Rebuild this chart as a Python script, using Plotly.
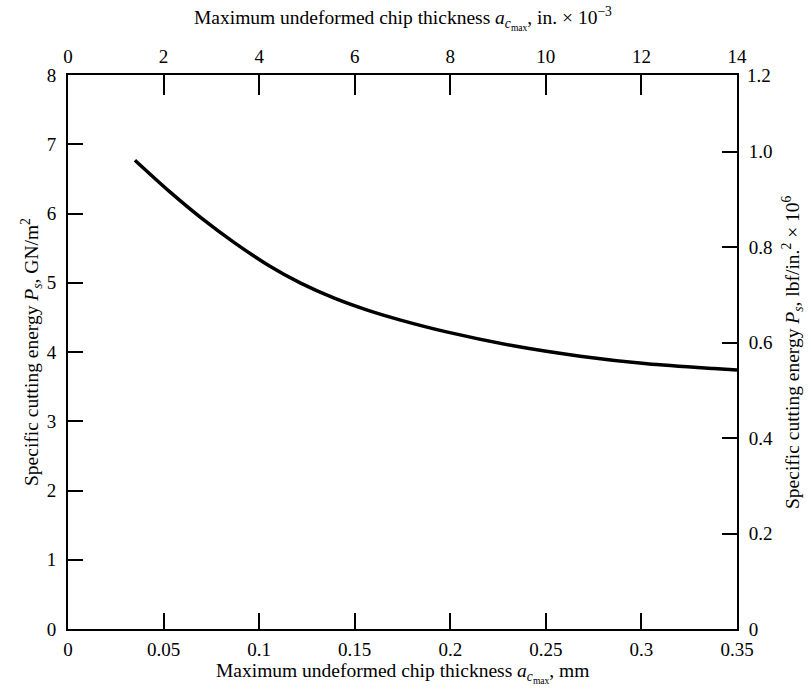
import plotly.graph_objects as go

# Specific cutting energy vs. maximum undeformed chip thickness
chip_mm = [0.035, 0.053, 0.070, 0.087, 0.105, 0.122, 0.139, 0.157, 0.174,
           0.198, 0.233, 0.268, 0.303, 0.338, 0.350]
energy_gn = [6.77, 6.32, 5.93, 5.58, 5.25, 4.99, 4.78, 4.60, 4.46,
             4.29, 4.09, 3.94, 3.83, 3.76, 3.74]

# Bottom axis (mm) and top axis (in. x 10^-3)
x_mm_ticks = [0, 0.05, 0.10, 0.15, 0.20, 0.25, 0.30, 0.35]
x_mm_text = ["0", "0.05", "0.1", "0.15", "0.2", "0.25", "0.3", "0.35"]
x_in_ticks = [0, 2, 4, 6, 8, 10, 12, 14]

# Left axis (GN/m^2) and right axis (lbf/in.^2 x 10^6)
y_gn_ticks = [0, 1, 2, 3, 4, 5, 6, 7, 8]
GN_PER_MPSI = 6.894757
y_psi_ticks = [0, 0.2, 0.4, 0.6, 0.8, 1.0]
y_psi_text = ["0", "0.2", "0.4", "0.6", "0.8", "1.0"]

FONT = "Liberation Serif"
TICK_SIZE = 19
TITLE_SIZE = 19.5
W, H = 811, 691
L, R, T, B = 68, 74, 75, 62

fig = go.Figure()
fig.add_trace(go.Scatter(
    x=chip_mm, y=energy_gn, mode="lines",
    line=dict(color="black", width=3.5, shape="spline", smoothing=0.8),
    hoverinfo="skip", showlegend=False,
))
# invisible traces to activate the secondary axes
fig.add_trace(go.Scatter(x=[0, 14], y=[None, None], xaxis="x2", yaxis="y",
                         showlegend=False, hoverinfo="skip"))
fig.add_trace(go.Scatter(x=[None, None], y=[0, 1], xaxis="x", yaxis="y2",
                         showlegend=False, hoverinfo="skip"))

axis_common = dict(showgrid=False, zeroline=False, showline=True,
                   linecolor="black", linewidth=2, ticks="inside",
                   tickcolor="black", tickwidth=2,
                   tickfont=dict(family=FONT, size=TICK_SIZE, color="black"))

fig.update_layout(
    width=W, height=H,
    margin=dict(l=L, r=R, t=T, b=B, pad=0),
    paper_bgcolor="white", plot_bgcolor="white",
    font=dict(family=FONT, color="black"),
    xaxis=dict(range=[0, 0.35], tickvals=x_mm_ticks, ticktext=x_mm_text,
               ticklen=16, ticklabelstandoff=2, **axis_common),
    xaxis2=dict(range=[0, 14], tickvals=x_in_ticks, overlaying="x",
                side="top", ticklen=20, ticklabelstandoff=2, **axis_common),
    yaxis=dict(range=[0, 8], tickvals=y_gn_ticks, ticklen=15,
               ticklabelstandoff=6, **axis_common),
    yaxis2=dict(range=[0, 8 / GN_PER_MPSI], tickvals=y_psi_ticks,
                ticktext=y_psi_text, overlaying="y", side="right",
                ticklen=15, ticklabelstandoff=6, **axis_common),
)

sub_a = "<i>a</i><sub><i>c</i><sub>max</sub></sub>"
annots = [
    dict(text=f"Maximum undeformed chip thickness {sub_a}, in. × 10<sup>−3</sup>",
         x=0.5, y=1, yshift=57, xref="paper", yref="paper",
         xanchor="center", yanchor="middle", showarrow=False,
         font=dict(family=FONT, size=TITLE_SIZE)),
    dict(text=f"Maximum undeformed chip thickness {sub_a}, mm",
         x=0.5, y=0, yshift=-44, xref="paper", yref="paper",
         xanchor="center", yanchor="middle", showarrow=False,
         font=dict(family=FONT, size=TITLE_SIZE)),
    dict(text="Specific cutting energy <i>P<sub>s</sub></i>, GN/m<sup>2</sup>",
         x=0, y=0.5, xshift=-37, xref="paper", yref="paper", textangle=-90,
         xanchor="center", yanchor="middle", showarrow=False,
         font=dict(family=FONT, size=TITLE_SIZE)),
    dict(text="Specific cutting energy <i>P<sub>s</sub></i>, lbf/in.<sup>2</sup> × 10<sup>6</sup>",
         x=1, y=0.5, xshift=55, xref="paper", yref="paper", textangle=-90,
         xanchor="center", yanchor="middle", showarrow=False,
         font=dict(family=FONT, size=TITLE_SIZE)),
    dict(text="1.2", x=1, y=1, xshift=8, xref="paper", yref="paper",
         xanchor="left", yanchor="middle", showarrow=False,
         font=dict(family=FONT, size=TICK_SIZE)),
]
fig.update_layout(annotations=annots)

fig.write_html("out.html")
